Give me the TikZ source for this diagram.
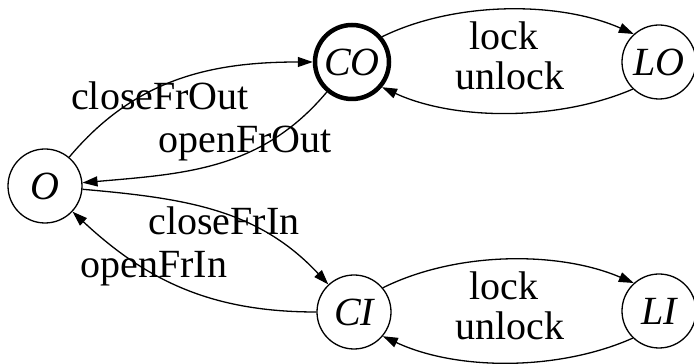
\documentclass[tikz,border=0pt]{standalone}
\usepackage{fontspec}
\setmainfont{Liberation Serif}
\usetikzlibrary{arrows.meta}

\begin{document}
\begin{tikzpicture}[x=1pt,y=1pt,
  state/.style={circle,draw,line width=1.3pt,minimum size=74pt,inner sep=0pt,
    font=\fontsize{40}{44}\selectfont\itshape},
  initial/.style={state,line width=4.5pt},
  edge/.style={line width=1.3pt,-{Triangle[length=15pt,width=10pt]}},
  lbl/.style={anchor=base,inner sep=0pt,font=\fontsize{40}{44}\selectfont}]
  \useasboundingbox (0,0) rectangle (694,364);

  % states
  \node[state]   (O)  at (45,178)  {O};
  \node[initial] (CO) at (352,302) {CO};
  \node[state]   (LO) at (659,302) {LO};
  \node[state]   (CI) at (354,52)  {CI};
  \node[state]   (LI) at (659,53)  {LI};

  % door transitions
  \draw[edge] (O) to[out=50,in=180] (CO);
  \draw[edge] (CO) to[out=230,in=5] (O);
  \draw[edge] (O) to[out=-5,in=133] (CI);
  \draw[edge] (CI) to[out=180,in=-43] (O);

  % lock / unlock loops
  \draw[edge] (CO.40) .. controls (455,363) and (559,363) .. (LO.132);
  \draw[edge] (LO.-134) .. controls (559,243) and (455,243) .. (CO.-40);
  \draw[edge] (CI.40) .. controls (457,113) and (559,113) .. (LI.132);
  \draw[edge] (LI.-134) .. controls (559,-7) and (457,-7) .. (CI.-40);

  % transition labels
  \node[lbl] (l1) at (160,254) {closeFrOut};
  \node[lbl] (l2) at (245,211) {openFrOut};
  \node[lbl] (l3) at (224,129) {closeFrIn};
  \node[lbl] (l4) at (154,86)  {openFrIn};
  \node[lbl] (l5) at (504,314) {lock};
  \node[lbl] (l6) at (510,274) {unlock};
  \node[lbl] (l7) at (504,64)  {lock};
  \node[lbl] (l8) at (510,24)  {unlock};
\end{tikzpicture}
\end{document}
